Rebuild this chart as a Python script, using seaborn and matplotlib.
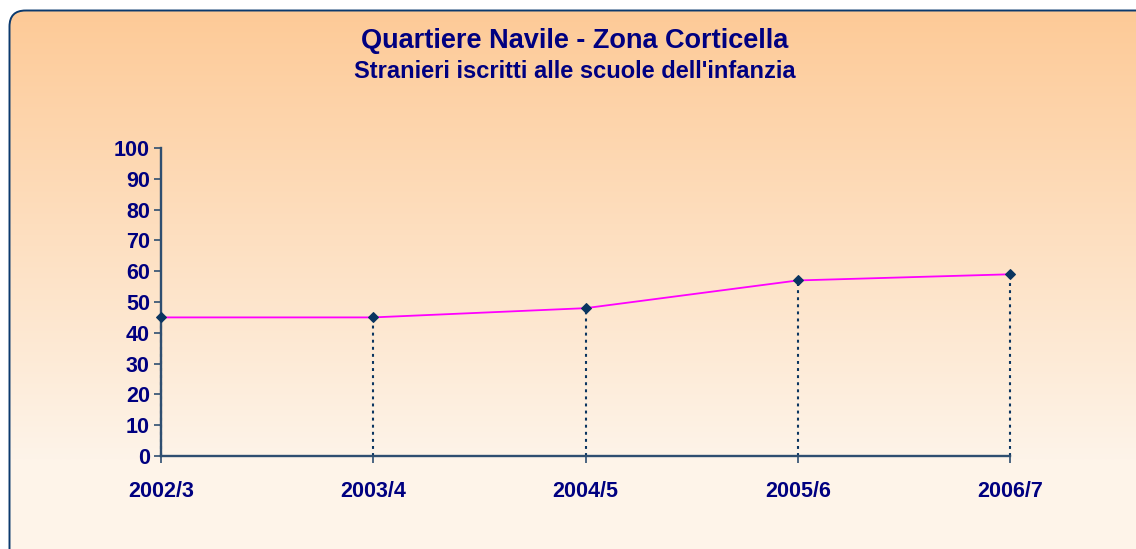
import numpy as np
import pandas as pd
import matplotlib
matplotlib.use("Agg")
import matplotlib.pyplot as plt
from matplotlib.patches import FancyBboxPatch
from matplotlib import font_manager as fm
import seaborn as sns

# Data
categories = ["2002/3", "2003/4", "2004/5", "2005/6", "2006/7"]
values = [45, 45, 48, 57, 59]
y_ticks = [0, 10, 20, 30, 40, 50, 60, 70, 80, 90, 100]

title = "Quartiere Navile - Zona Corticella"
subtitle = "Stranieri iscritti alle scuole dell'infanzia"

sns.set_theme(style="white")
plt.rcParams['font.family'] = ['Liberation Sans', 'DejaVu Sans']
fp = fm.FontProperties(family=["Liberation Sans", "DejaVu Sans"], weight="bold",
                       stretch="normal")

W, H = 1136, 549
fig = plt.figure(figsize=(W / 100, H / 100), dpi=100)
fig.patch.set_facecolor("white")

# background gradient inside rounded frame
bg = fig.add_axes([0, 0, 1, 1], zorder=-10)
bg.set_xlim(0, W)
bg.set_ylim(H, 0)
bg.axis("off")
top = np.array([253, 202, 151]) / 255.0
bot = np.array([254, 244, 233]) / 255.0
t = np.linspace(0, 1, 256)[:, None]
grad = (top[None, :] * (1 - t) + bot[None, :] * t)[:, None, :]
grad = np.repeat(grad, 2, axis=1)
frame = FancyBboxPatch((9.5, 10.5), W + 40, H + 40,
                       boxstyle="round,pad=0,rounding_size=16",
                       facecolor="none", edgecolor="#0B3A6E", linewidth=1.4)
bg.add_patch(frame)
im = bg.imshow(grad, extent=[9.5, W + 40, 10 + 450, 10], aspect="auto",
               interpolation="bilinear")
im2 = bg.imshow(np.repeat(bot[None, None, :], 2, axis=1),
                extent=[9.5, W + 40, H + 50, 460], aspect="auto")
im.set_clip_path(frame)
im2.set_clip_path(frame)

# main axes
x0, x1 = 161, 1010
y0, y1 = 456, 148
ax = fig.add_axes([x0 / W, 1 - y0 / H, (x1 - x0) / W, (y0 - y1) / H])
ax.set_facecolor("none")

df = pd.DataFrame({"x": np.arange(len(categories)), "v": values})
navy = "#000080"
dark = "#0A3560"

ax.vlines(df["x"], 0, df["v"], colors=dark, linestyles=(0, (1.4, 2.0)),
          linewidth=1.5, zorder=2, clip_on=False)
sns.lineplot(data=df, x="x", y="v", ax=ax, color="#FF00FF", linewidth=1.3,
             marker="D", markersize=5.5, markerfacecolor=dark,
             markeredgecolor=dark, zorder=5, clip_on=False)

ax.set_xlim(0, len(categories) - 1)
ax.set_ylim(0, 100)
ax.set_xticks(df["x"])
ax.set_xticklabels(categories)
ax.set_yticks(y_ticks)
ax.set_xlabel("")
ax.set_ylabel("")

for s in ["top", "right"]:
    ax.spines[s].set_visible(False)
for s in ["left", "bottom"]:
    ax.spines[s].set_color("#2E4E70")
    ax.spines[s].set_linewidth(1.7)
    ax.spines[s].set_zorder(4)

ax.tick_params(axis="y", direction="out", length=5, width=1.2, color="#2E4E70",
               pad=3, labelcolor=navy, left=True)
ax.tick_params(axis="x", direction="out", length=5, width=1.2, color="#2E4E70",
               pad=13, labelcolor=navy, bottom=True)
for lab in ax.get_xticklabels() + ax.get_yticklabels():
    lab.set_fontproperties(fp)
    lab.set_fontsize(15.5)

fig.text(575 / W, 1 - 41 / H, title, ha="center", va="center",
         fontproperties=fp, fontsize=19.5, color=navy)
fig.text(575 / W, 1 - 72 / H, subtitle, ha="center", va="center",
         fontproperties=fp, fontsize=17, color=navy)

fig.savefig("out.png", dpi=100, facecolor=fig.get_facecolor())
